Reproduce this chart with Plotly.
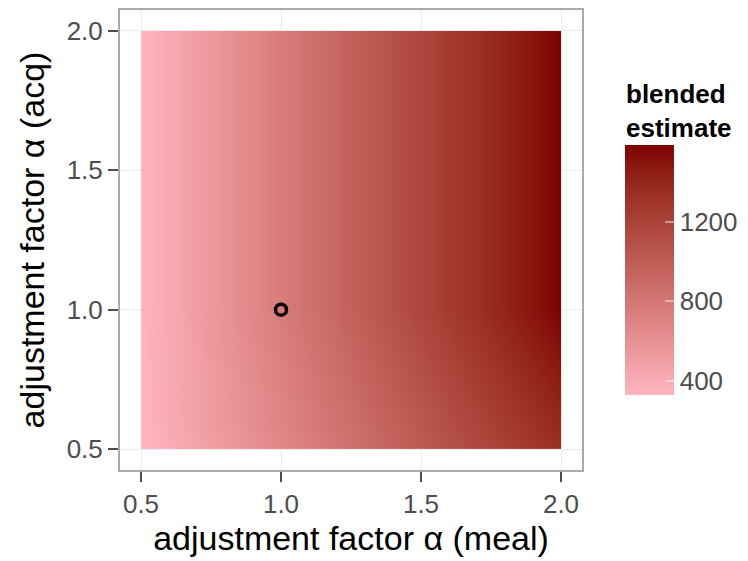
import plotly.graph_objects as go
import numpy as np

# ---- data ----
alpha_meal = [0.5, 0.75, 1.0, 1.25, 1.5, 1.75, 2.0]
alpha_acq = [0.5, 0.75, 1.0, 1.5, 2.0]
blended = [
    [330, 500, 670, 840, 1010, 1180, 1350],   # acq 0.5
    [330, 520, 710, 900, 1088, 1278, 1468],   # acq 0.75
    [330, 540, 750, 960, 1165, 1375, 1585],   # acq 1.0
    [330, 540, 750, 960, 1165, 1375, 1585],   # acq 1.5
    [330, 540, 750, 960, 1165, 1375, 1585],   # acq 2.0
]
point_meal = [1.0]
point_acq = [1.0]
axis_ticks = [0.5, 1.0, 1.5, 2.0]
axis_ticktext = ["0.5", "1.0", "1.5", "2.0"]
cbar_ticks = [400, 800, 1200]

# ---- colour scale: Lab interpolation pink -> dark red (like ggplot) ----
def srgb_to_lin(c):
    c = c / 255.0
    return np.where(c <= 0.04045, c / 12.92, ((c + 0.055) / 1.055) ** 2.4)

def lin_to_srgb(c):
    c = np.clip(c, 0, 1)
    v = np.where(c <= 0.0031308, 12.92 * c, 1.055 * c ** (1 / 2.4) - 0.055)
    return np.clip(np.round(v * 255), 0, 255)

M = np.array([[0.4124, 0.3576, 0.1805], [0.2126, 0.7152, 0.0722], [0.0193, 0.1192, 0.9505]])
Minv = np.linalg.inv(M)
WP = np.array([0.95047, 1.0, 1.08883])

def f(t):
    return np.where(t > (6/29) ** 3, np.cbrt(t), t / (3 * (6/29) ** 2) + 4/29)

def finv(t):
    return np.where(t > 6/29, t ** 3, 3 * (6/29) ** 2 * (t - 4/29))

def hex_to_lab(h):
    rgb = np.array([int(h[i:i+2], 16) for i in (1, 3, 5)], dtype=float)
    xyz = M @ srgb_to_lin(rgb) / WP
    fx, fy, fz = f(xyz)
    return np.array([116 * fy - 16, 500 * (fx - fy), 200 * (fy - fz)])

def lab_to_rgbstr(lab):
    L, a, b = lab
    fy = (L + 16) / 116
    fx = fy + a / 500
    fz = fy - b / 200
    xyz = np.array([finv(fx), finv(fy), finv(fz)]) * WP
    rgb = lin_to_srgb(Minv @ xyz)
    return "rgb(%d,%d,%d)" % tuple(int(v) for v in rgb)

low_lab = hex_to_lab("#FFB4BF")
high_lab = hex_to_lab("#7F0000")
colorscale = [[t, lab_to_rgbstr(low_lab + (high_lab - low_lab) * t)] for t in np.linspace(0, 1, 21)]

# page has an 8px body margin; positions below are page pixels
OFF = 8
W, H = 748, 561
PL, PR, PT, PB = 120, 582, 10, 470   # panel edges on the page
FONT = "Liberation Sans, Arial, sans-serif"

def px_paper_x(px):
    return (px - PL) / (PR - PL)

def px_paper_y(py):
    return (PB - py) / (PB - PT)

fig = go.Figure()
fig.add_trace(go.Contour(
    x=alpha_meal, y=alpha_acq, z=blended,
    contours=dict(coloring="heatmap", showlines=False),
    line=dict(width=0),
    colorscale=colorscale, zmin=330, zmax=1585,
    colorbar=dict(
        xref="paper", yref="paper",
        x=px_paper_x(625), xanchor="left",
        y=px_paper_y(395), yanchor="bottom",
        len=250, lenmode="pixels", thickness=49,
        outlinewidth=0,
        tickvals=cbar_ticks,
        ticks="inside", ticklen=9, tickcolor="rgba(255,255,255,0.45)", tickwidth=2,
        tickfont=dict(size=26, color="#4D4D4D", family=FONT),
        xpad=0, ypad=0,
    ),
    hoverinfo="skip",
))
fig.add_trace(go.Scatter(
    x=point_meal, y=point_acq, mode="markers",
    marker=dict(symbol="circle-open", size=11, color="black", line=dict(width=3.5, color="black")),
    showlegend=False, hoverinfo="skip",
))

axis_common = dict(
    range=[0.425, 2.075],
    tickvals=axis_ticks,
    ticktext=axis_ticktext,
    showgrid=True, gridcolor="#EBEBEB", gridwidth=1,
    zeroline=False,
    showline=True, linecolor="#ABABAB", linewidth=2, mirror=True,
    ticks="outside", ticklen=10, tickwidth=2, tickcolor="#4D4D4D",
    tickfont=dict(size=26, color="#4D4D4D", family=FONT),
)

annotations = [
    dict(text="<b>blended<br>estimate</b>", x=px_paper_x(624), y=px_paper_y(111),
         xref="paper", yref="paper", xanchor="left", yanchor="middle", align="left",
         showarrow=False, font=dict(size=26, color="black", family=FONT)),
]

fig.update_layout(
    width=W, height=H,
    margin=dict(l=PL - OFF, r=W - (PR - OFF), t=PT - OFF, b=H - (PB - OFF), autoexpand=False),
    paper_bgcolor="white", plot_bgcolor="white",
    font=dict(family=FONT, color="black"),
    xaxis=dict(axis_common, title=dict(text="adjustment factor α (meal)",
               font=dict(size=34, color="black"), standoff=4)),
    yaxis=dict(axis_common, title=dict(text="adjustment factor α (acq)",
               font=dict(size=34, color="black"), standoff=12)),
    annotations=annotations,
    showlegend=False,
)

fig.write_html("out.html")
